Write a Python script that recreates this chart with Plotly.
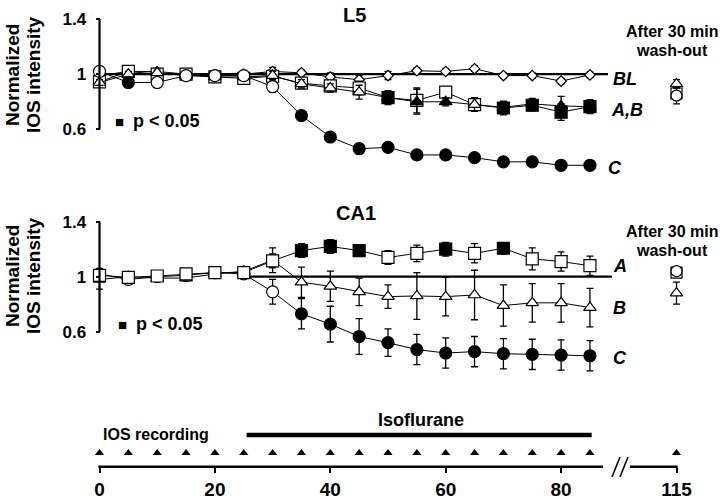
import plotly.graph_objects as go

# ---------------- data ----------------
TIME = [0, 5, 10, 15, 20, 25, 30, 35, 40, 45, 50, 55, 60, 65, 70, 75, 80, 85]
WASH_TIME = 115
AXIS_TICKS = [0, 20, 40, 60, 80, 115]
ISOFLURANE = [25.5, 85.3]
Y_TICKS = [0.6, 1, 1.4]
Y_TICK_TEXT = ["0.6", "1", "1.4"]
BASELINE = 1.0

# L5 panel
L5_BL = [0.99, 1.02, 1.02, 1.0, 0.99, 1.0, 1.02, 1.01, 0.98, 0.96, 0.99, 1.025, 1.02, 1.04, 0.99, 0.99, 0.95, 0.995]
L5_BL_ERR = [0.02, 0.02, 0.02, 0.02, 0.02, 0.02, 0.03, 0.02, 0.03, 0.03, 0.03, 0.02, 0.02, 0.02, 0.02, 0.02, 0.02, 0.02]
L5_A = [0.945, 1.02, 1.0, 1.0, 0.98, 0.97, 0.985, 0.935, 0.915, 0.90, 0.83, 0.81, 0.87, 0.78, 0.755, 0.775, 0.725, 0.765]
L5_A_ERR = [0.02, 0.02, 0.02, 0.02, 0.02, 0.02, 0.03, 0.03, 0.03, 0.05, 0.05, 0.09, 0.03, 0.05, 0.05, 0.04, 0.06, 0.04]
L5_A_SIG = [0, 0, 0, 0, 0, 0, 0, 0, 0, 0, 1, 0, 0, 0, 1, 1, 1, 1]
L5_B = [0.94, 1.0, 1.01, 0.99, 0.98, 0.98, 0.99, 0.93, 0.90, 0.87, 0.83, 0.80, 0.80, 0.78, 0.76, 0.785, 0.77, 0.765]
L5_B_ERR = [0.02, 0.02, 0.02, 0.02, 0.02, 0.02, 0.03, 0.03, 0.03, 0.05, 0.04, 0.09, 0.03, 0.05, 0.04, 0.04, 0.07, 0.05]
L5_B_SIG = [0, 0, 0, 0, 0, 0, 0, 0, 0, 0, 1, 1, 1, 0, 1, 1, 1, 1]
L5_C = [1.02, 0.94, 0.94, 0.99, 0.99, 0.99, 0.91, 0.70, 0.545, 0.46, 0.47, 0.415, 0.415, 0.395, 0.365, 0.365, 0.34, 0.34]
L5_C_ERR = [0.02, 0.02, 0.02, 0.02, 0.02, 0.02, 0.04, 0.02, 0.03, 0.03, 0.02, 0.02, 0.02, 0.03, 0.02, 0.02, 0.02, 0.02]
L5_C_SIG = [0, 1, 0, 0, 0, 0, 0, 1, 1, 1, 1, 1, 1, 1, 1, 1, 1, 1]
L5_WASH = {"A": 0.86, "B": 0.93, "C": 0.845}
L5_WASH_ERR = {"A": 0.03, "B": 0.03, "C": 0.06}

# CA1 panel
CA1_A = [1.01, 0.995, 1.005, 1.02, 1.03, 1.03, 1.115, 1.19, 1.22, 1.19, 1.14, 1.17, 1.20, 1.17, 1.207, 1.13, 1.11, 1.08]
CA1_A_ERR = [0.03, 0.02, 0.02, 0.02, 0.02, 0.02, 0.05, 0.05, 0.05, 0.04, 0.05, 0.06, 0.05, 0.07, 0.04, 0.08, 0.07, 0.07]
CA1_A_SIG = [0, 0, 0, 0, 0, 0, 0, 1, 1, 1, 0, 0, 1, 0, 1, 0, 0, 0]
CA1_B = [0.98, 1.0, 0.99, 0.99, 1.02, 1.04, 1.12, 0.96, 0.93, 0.89, 0.855, 0.86, 0.855, 0.867, 0.79, 0.81, 0.81, 0.775]
CA1_B_ERR = [0.07, 0.02, 0.02, 0.02, 0.02, 0.02, 0.09, 0.11, 0.11, 0.10, 0.085, 0.17, 0.14, 0.18, 0.15, 0.14, 0.14, 0.14]
CA1_C = [1.02, 0.98, 1.0, 1.01, 1.03, 1.02, 0.89, 0.73, 0.655, 0.565, 0.52, 0.47, 0.445, 0.455, 0.44, 0.435, 0.43, 0.425]
CA1_C_ERR = [0.03, 0.02, 0.02, 0.02, 0.02, 0.02, 0.09, 0.11, 0.13, 0.13, 0.10, 0.11, 0.11, 0.11, 0.11, 0.11, 0.11, 0.11]
CA1_C_SIG = [0, 0, 0, 0, 0, 0, 0, 1, 1, 1, 1, 1, 1, 1, 1, 1, 1, 1]
CA1_WASH = {"A": 1.03, "B": 0.88, "C": 1.04}
CA1_WASH_ERR = {"A": 0.03, "B": 0.08, "C": 0.03}

# ---------------- geometry ----------------
W, H = 726, 499
ML, MR = 87, 27
PW = W - ML - MR
X0_PX = 99.5
PX_PER_MIN = 5.77
BREAK_AFTER = 85
WASH_AXIS_POS = 100  # broken axis: 115 min drawn here


def axis_pos(t):
    return t if t <= BREAK_AFTER else WASH_AXIS_POS


def pxx(px):
    return (px - ML) / PW


def pxy(py):
    return 1 - py / H


def t_of_px(px):
    return (px - X0_PX) / PX_PER_MIN


X_RANGE = [t_of_px(ML), t_of_px(ML + PW)]


def top_val(py):
    return 1.4 - (py - 19) / 138.0


def bot_val(py):
    return 1.4 - (py - 221.7) / 137.5


def tl_val(py):
    return (466.7 - py) / 46.7


FONT = "Liberation Sans, Arial, sans-serif"
fig = go.Figure()

TIME_POS = [axis_pos(t) for t in TIME]
WASH_POS = axis_pos(WASH_TIME)


def fills(sig):
    return ["black" if s else "white" for s in sig]


def series(y, err, sig, symbol, size, yaxis):
    fig.add_trace(go.Scatter(
        x=TIME_POS, y=y, yaxis=yaxis, mode="lines+markers",
        line=dict(color="black", width=1),
        marker=dict(symbol=symbol, size=size, color=fills(sig),
                    line=dict(color="black", width=1.2)),
        error_y=dict(type="data", array=err, color="black", thickness=1.3, width=3.5),
        showlegend=False, hoverinfo="skip"))


def wash(val, err, symbol, size, yaxis):
    fig.add_trace(go.Scatter(
        x=[WASH_POS], y=[val], yaxis=yaxis, mode="markers",
        marker=dict(symbol=symbol, size=size, color="white",
                    line=dict(color="black", width=1.2)),
        error_y=dict(type="data", array=[err], color="black", thickness=1.3, width=3.5),
        showlegend=False, hoverinfo="skip"))


# baselines
fig.add_trace(go.Scatter(x=[0, t_of_px(608)], y=[BASELINE, BASELINE], yaxis="y",
                         mode="lines", line=dict(color="black", width=2.2),
                         showlegend=False, hoverinfo="skip"))
fig.add_trace(go.Scatter(x=[25, t_of_px(612)], y=[BASELINE, BASELINE], yaxis="y2",
                         mode="lines", line=dict(color="black", width=2.2),
                         showlegend=False, hoverinfo="skip"))

# top panel
series(L5_BL, L5_BL_ERR, [0] * len(TIME), "diamond", 8, "y")
series(L5_A, L5_A_ERR, L5_A_SIG, "square", 12, "y")
series(L5_B, L5_B_ERR, L5_B_SIG, "triangle-up", 11, "y")
series(L5_C, L5_C_ERR, L5_C_SIG, "circle", 12, "y")
wash(L5_WASH["A"], L5_WASH_ERR["A"], "square", 11, "y")
wash(L5_WASH["C"], L5_WASH_ERR["C"], "circle", 11, "y")
wash(L5_WASH["B"], L5_WASH_ERR["B"], "triangle-up", 11, "y")

# bottom panel
series(CA1_C, CA1_C_ERR, CA1_C_SIG, "circle", 12, "y2")
series(CA1_B, CA1_B_ERR, [0] * len(TIME), "triangle-up", 11, "y2")
series(CA1_A, CA1_A_ERR, CA1_A_SIG, "square", 12, "y2")
wash(CA1_WASH["B"], CA1_WASH_ERR["B"], "triangle-up", 11, "y2")
wash(CA1_WASH["A"], CA1_WASH_ERR["A"], "square", 11, "y2")
wash(CA1_WASH["C"], CA1_WASH_ERR["C"], "circle", 11, "y2")

# timeline
ARROW_LEVEL = tl_val(453)
BAR_LEVEL = tl_val(435)
arrow_times = TIME + [WASH_TIME]
fig.add_trace(go.Scatter(x=[axis_pos(t) for t in arrow_times], y=[ARROW_LEVEL] * len(arrow_times),
                         yaxis="y3", mode="markers",
                         marker=dict(symbol="triangle-up", size=8, color="black"),
                         showlegend=False, hoverinfo="skip"))
fig.add_trace(go.Scatter(x=ISOFLURANE, y=[BAR_LEVEL] * 2, yaxis="y3", mode="lines",
                         line=dict(color="black", width=4.5),
                         showlegend=False, hoverinfo="skip"))

shapes = []
# y axis lines (only span 0.6 - 1.4)
for ya in ("y", "y2"):
    shapes.append(dict(type="line", xref="paper", yref=ya, x0=pxx(X0_PX), x1=pxx(X0_PX),
                       y0=Y_TICKS[0], y1=Y_TICKS[-1], line=dict(color="black", width=2.2)))
# broken time axis
shapes.append(dict(type="line", xref="x", yref="y3", x0=-0.2, x1=t_of_px(603), y0=0, y1=0,
                   line=dict(color="black", width=2.6)))
shapes.append(dict(type="line", xref="x", yref="y3", x0=t_of_px(630), x1=WASH_AXIS_POS + 0.2, y0=0, y1=0,
                   line=dict(color="black", width=2.6)))
for bx in (612, 620):
    shapes.append(dict(type="line", xref="x", yref="y3", x0=t_of_px(bx), x1=t_of_px(bx + 8),
                       y0=tl_val(477), y1=tl_val(457), line=dict(color="black", width=1.6)))

ann = []


def text(px, py, s, size=16, xanchor="center", italic=False, angle=0, yanchor="middle"):
    ann.append(dict(x=pxx(px), y=pxy(py), xref="paper", yref="paper", text=s, showarrow=False,
                    xanchor=xanchor, yanchor=yanchor, textangle=angle, borderpad=0,
                    font=dict(family=FONT, size=size, color="black", weight="bold",
                              style="italic" if italic else "normal")))


# panel titles
text(354, 15, "L5", 20)
text(356, 213, "CA1", 20)
# y titles
for yc in (75, 276):
    text(12, yc, "Normalized", 19, angle=-90)
    text(33, yc, "IOS intensity", 19, angle=-90)
# p < 0.05 keys
text(119, 121.5, "■", 15)
text(132, 121.5, "p < 0.05", 18, xanchor="left")
text(122, 324, "■", 15)
text(135, 323.5, "p < 0.05", 18, xanchor="left")
# series labels
text(612, 79, "BL", 18, xanchor="left", italic=True)
text(610, 110, "A,B", 18, xanchor="left", italic=True)
text(607, 168, "C", 18, xanchor="left", italic=True)
text(612, 266, "A", 18, xanchor="left", italic=True)
text(612, 308, "B", 18, xanchor="left", italic=True)
text(612, 358, "C", 18, xanchor="left", italic=True)
# wash-out labels (two stacked lines)
for y_mid in (41, 240.5):
    text(672, y_mid, "After 30 min", 16, yanchor="bottom")
    text(672, y_mid, "wash-out", 16, yanchor="top")
# timeline labels
text(156, 434, "IOS recording", 16)
text(421, 420, "Isoflurane", 18)

yax_common = dict(showgrid=False, zeroline=False, showline=False, tickvals=Y_TICKS,
                  ticktext=Y_TICK_TEXT, ticks="outside", ticklen=4, tickwidth=2,
                  tickcolor="black", anchor="free", position=pxx(X0_PX),
                  ticklabelstandoff=6,
                  tickfont=dict(family=FONT, size=17, color="black", weight="bold"))

fig.update_layout(
    width=W, height=H, margin=dict(l=ML, r=MR, t=0, b=0),
    paper_bgcolor="white", plot_bgcolor="white", showlegend=False,
    xaxis=dict(range=X_RANGE, anchor="free", position=pxy(466.7), showgrid=False,
               zeroline=False, showline=False, ticks="outside", ticklen=5, tickwidth=2,
               tickcolor="black", tickvals=[axis_pos(t) for t in AXIS_TICKS],
               ticktext=[str(t) for t in AXIS_TICKS],
               tickfont=dict(family=FONT, size=19, color="black", weight="bold")),
    yaxis=dict(domain=[pxy(178), pxy(4)], range=[top_val(178), top_val(4)], **yax_common),
    yaxis2=dict(domain=[pxy(378), pxy(190)], range=[bot_val(378), bot_val(190)], **yax_common),
    yaxis3=dict(domain=[0, pxy(415)], range=[tl_val(499), tl_val(415)], visible=False,
                anchor="free", position=0),
    shapes=shapes, annotations=ann,
)

fig.write_html("out.html", config={"displayModeBar": False},
               post_script="document.body.style.margin='0';document.body.style.overflow='hidden';")
